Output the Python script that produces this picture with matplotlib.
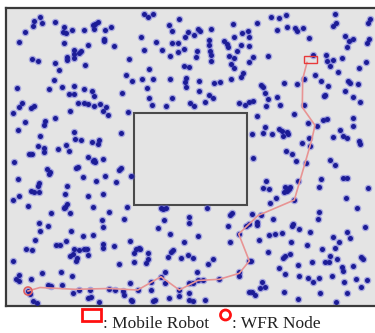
import matplotlib.pyplot as plt
from matplotlib.patches import Rectangle, Ellipse

# ---------------------------------------------------------------- DATA
# sensor node positions (map units, y grows downward)
dot_x = [
    40, 34, 42, 33, 55, 64, 63, 66, 72, 84, 93, 98, 95, 94, 105, 111, 25, 19, 64, 74,
    79, 81, 74, 88, 104, 104, 114, 32, 38, 67, 67, 74, 55, 59, 85, 129, 126, 54, 17, 49,
    62, 74, 84, 92, 69, 74, 94, 122, 78, 84, 88, 94, 100, 106, 103, 108, 22, 19, 31, 34,
    13, 70, 128, 45, 44, 55, 25, 18, 74, 121, 40, 75, 81, 99, 98, 92, 66, 38, 44, 44,
    58, 69, 29, 32, 88, 103, 94,
    144, 148, 153, 179, 169, 172, 188, 198, 200, 211, 233, 242, 248, 141, 156, 185, 194, 172, 178, 209,
    209, 224, 227, 228, 234, 241, 249, 144, 162, 178, 184, 197, 196, 210, 211, 237, 249, 170, 211, 229,
    234, 249, 231, 234, 149, 184, 189, 132, 142, 153, 170, 186, 185, 199, 214, 220, 231, 241, 243, 147,
    186, 199, 149, 172, 209, 213, 152, 166, 190, 194, 205, 239, 245, 249,
    271, 279, 286, 257, 277, 287, 295, 297, 303, 335, 336, 333, 370, 368, 309, 345, 349, 353, 347, 367,
    369, 253, 268, 313, 326, 327, 333, 330, 342, 338, 366, 359, 315, 321, 328, 348, 350, 358, 345, 261,
    263, 265, 277, 284, 297, 304, 325, 324, 353, 360, 268, 266, 280, 304, 253, 257, 294, 323, 327, 308,
    317, 353, 353, 265, 263, 272, 279, 282, 287, 283, 288, 252, 309, 333, 340, 343, 347, 359, 360, 302,
    310, 286, 292,
    14, 93, 95, 78, 76, 121, 119, 47, 50, 49, 18, 83, 96, 105, 116, 39, 38, 31, 34, 39,
    19, 13, 67, 65, 67, 65, 64, 88, 103, 28, 93, 127, 51, 70, 109, 102, 124, 39, 48, 103,
    40, 71, 83, 93, 35, 130, 56, 60, 66, 74, 79, 84, 87, 73, 70, 77, 76, 88, 103, 103,
    114, 26, 32, 13, 42, 61, 72, 119, 19, 16, 19, 31, 48, 51, 62, 28, 30, 73, 79, 90,
    91, 88, 109, 115, 124, 123, 33, 37, 99, 131,
    131, 161, 163, 166, 207, 189, 189, 164, 158, 170, 198, 232, 230, 228, 246, 249, 239, 230, 184, 139,
    136, 140, 148, 134, 173, 171, 168, 188, 193, 181, 213, 208, 148, 146, 134, 165, 161, 197, 130, 151,
    165, 189, 193, 198, 203, 219, 239, 239, 249, 138, 151, 179, 189, 179, 249, 132, 153, 155, 169, 189,
    193, 205,
    253, 296, 306, 330, 335, 321, 343, 347, 368, 266, 298, 263, 269, 285, 290, 289, 284, 287, 319, 276,
    294, 270, 346, 357, 252, 261, 319, 318, 273, 257, 257, 293, 292, 299, 365, 310, 282, 269, 275, 347,
    333, 350, 339, 259, 291, 307, 335, 322, 268, 251, 290, 285, 283, 330, 337, 361, 363, 325, 329, 312,
    298, 279, 342, 343, 353, 285, 299, 308, 319, 313, 332, 356, 367, 344, 262, 260, 265, 361, 252, 255,
    284, 320, 347, 298, 336,
]
dot_y = [
    17, 21, 23, 26, 22, 27, 32, 33, 30, 30, 25, 22, 24, 29, 30, 27, 32, 42, 43, 50,
    53, 51, 54, 45, 39, 41, 46, 59, 61, 57, 60, 58, 63, 70, 65, 59, 75, 80, 88, 89,
    87, 86, 89, 91, 94, 94, 96, 93, 103, 103, 104, 106, 104, 107, 111, 115, 103, 107, 108, 106,
    113, 111, 112, 121, 125, 118, 122, 130, 132, 133, 136, 139, 140, 140, 144, 142, 145, 146, 148, 152,
    149, 151, 154, 154, 157, 159, 160,
    14, 17, 14, 19, 25, 31, 32, 29, 31, 29, 24, 33, 31, 37, 42, 37, 35, 43, 43, 40,
    45, 41, 44, 47, 37, 45, 37, 50, 50, 52, 49, 51, 57, 51, 55, 51, 46, 56, 61, 56,
    58, 62, 64, 68, 69, 66, 67, 81, 79, 79, 79, 78, 82, 81, 83, 82, 79, 77, 73, 88,
    87, 91, 98, 98, 95, 98, 105, 106, 103, 106, 102, 103, 105, 102,
    17, 18, 15, 23, 30, 27, 28, 31, 28, 14, 23, 26, 19, 23, 38, 36, 41, 39, 47, 43,
    39, 57, 56, 55, 55, 61, 60, 66, 58, 72, 62, 68, 75, 81, 86, 81, 83, 84, 91, 85,
    87, 93, 97, 83, 84, 79, 95, 96, 97, 102, 99, 106, 105, 105, 101, 116, 114, 120, 119, 123,
    126, 118, 126, 127, 133, 134, 129, 131, 132, 136, 134, 134, 138, 137, 130, 136, 138, 141, 144, 143,
    146, 151, 154,
    162, 161, 162, 167, 168, 168, 170, 169, 172, 174, 179, 177, 181, 176, 182, 183, 186, 191, 192, 192,
    196, 200, 186, 194, 204, 207, 208, 196, 194, 206, 207, 207, 213, 213, 212, 220, 219, 223, 226, 227,
    231, 231, 236, 235, 240, 241, 245, 245, 241, 249, 250, 249, 249, 254, 256, 258, 261, 255, 244, 248,
    246, 249, 250, 261, 273, 272, 276, 264, 275, 279, 281, 279, 285, 286, 285, 291, 294, 293, 290, 290,
    297, 298, 289, 290, 295, 291, 301, 303, 302, 300,
    176, 208, 209, 208, 208, 217, 223, 220, 228, 234, 236, 213, 215, 226, 226, 224, 234, 242, 242, 248,
    249, 249, 253, 253, 250, 252, 257, 255, 258, 258, 259, 264, 259, 263, 262, 272, 277, 272, 283, 282,
    283, 283, 283, 280, 280, 279, 272, 276, 261, 290, 290, 290, 293, 296, 292, 301, 301, 300, 298, 300,
    301, 300,
    158, 161, 163, 160, 165, 179, 178, 178, 188, 181, 181, 188, 189, 187, 187, 189, 192, 191, 187, 198,
    200, 203, 198, 208, 214, 215, 212, 219, 219, 222, 225, 224, 226, 229, 227, 232, 233, 235, 234, 232,
    237, 238, 242, 240, 242, 245, 248, 249, 252, 261, 254, 256, 258, 256, 259, 257, 259, 262, 262, 262,
    265, 268, 267, 271, 266, 274, 276, 278, 278, 282, 276, 279, 280, 282, 282, 288, 287, 287, 292, 295,
    292, 293, 293, 299, 302,
]

# route of the mobile robot back to the WFR node
path_x = [307, 302.7, 302.3, 315, 311.7, 305, 294.3, 258, 238.7, 249.3, 239.3, 219.3,
          197.7, 179.3, 161, 137.7, 109.3, 75, 40, 28]
path_y = [62.5, 79, 107.3, 125.3, 140, 163.3, 200, 215.5, 234, 261, 273.3, 279.3,
          280.5, 290, 276.7, 290, 288.5, 289.3, 287.5, 291]

robot_box = (304, 56, 13, 7)     # x, y, width, height
wfr_node = (28, 291)
obstacle = (134, 113, 113, 92)   # x, y, width, height

# ---------------------------------------------------------------- PLOT
fig = plt.figure(figsize=(3.75, 3.33), dpi=100)
ax = fig.add_axes([6 / 375, 27 / 333, 372 / 375, 298 / 333])
ax.set_facecolor('#e4e4e4')
ax.set_xlim(6, 378)
ax.set_ylim(306, 8)
ax.set_xticks([])
ax.set_yticks([])
for side in ['left', 'top', 'bottom']:
    ax.spines[side].set_color('#3a3a3a')
    ax.spines[side].set_linewidth(1.6)
ax.spines['right'].set_visible(False)

# obstacle
ax.add_patch(Rectangle(obstacle[:2], obstacle[2], obstacle[3], fill=False,
                       ec='#4a4a4a', lw=1.5, zorder=1))

# sensor nodes: soft halo + dark core
ax.scatter(dot_x, dot_y, s=30, color='#5a5ad8', alpha=0.45, lw=0, zorder=2)
ax.scatter(dot_x, dot_y, s=13, color='#1c1c96', lw=0, zorder=3)

# robot path
ax.plot(path_x, path_y, color='#e89494', lw=1.2, zorder=4)
ax.add_patch(Rectangle(robot_box[:2], robot_box[2], robot_box[3], fill=False,
                       ec='#e83a3a', lw=1.0, zorder=5))
ax.add_patch(Ellipse(wfr_node, 8, 8, fill=False, ec='#e06060', lw=1.2, zorder=5))

# legend under the map
fig.patches.append(Rectangle((82 / 375, 1 - 321 / 333), 19 / 375, 12 / 333, fill=False,
                             ec='#ff1010', lw=2, transform=fig.transFigure, figure=fig))
fig.patches.append(Ellipse((225.5 / 375, 1 - 315 / 333), 10 / 375, 10 / 333, fill=False,
                           ec='#ff1010', lw=2, transform=fig.transFigure, figure=fig))
fig.text(103 / 375, 1 - 328.5 / 333, ': Mobile Robot', family='Liberation Serif',
         fontsize=12.5, color='#222222', va='baseline')
fig.text(232 / 375, 1 - 328.5 / 333, ': WFR Node', family='Liberation Serif',
         fontsize=12.5, color='#222222', va='baseline')

fig.savefig('out.png', dpi=100)
